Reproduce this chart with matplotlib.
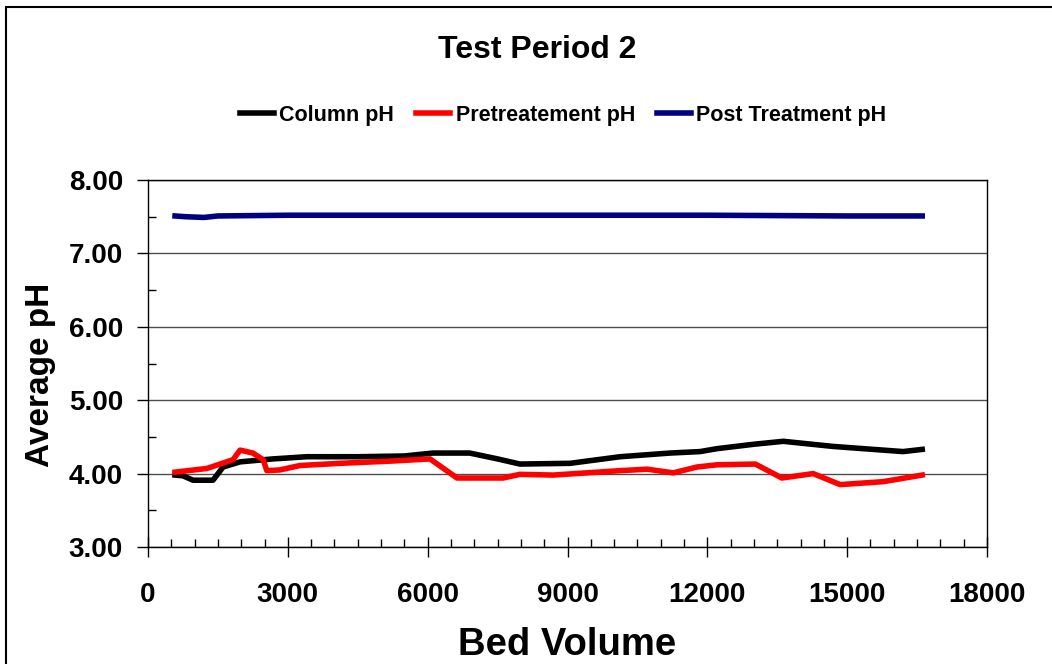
import matplotlib.pyplot as plt
from matplotlib.patches import Rectangle
from matplotlib.ticker import MultipleLocator, FormatStrFormatter

plt.rcParams['font.family'] = ['Liberation Sans', 'DejaVu Sans']
plt.rcParams['font.weight'] = 'bold'

# Column pH
col_x = [580, 750, 965, 1395, 1610, 1975, 2680, 3410, 4500, 5500, 6115, 6900,
         7500, 7980, 9055, 10130, 11200, 11845, 12210, 13000, 13630, 14700,
         15770, 16200, 16610]
col_y = [3.98, 3.97, 3.91, 3.91, 4.09, 4.16, 4.20, 4.23, 4.23, 4.24, 4.28, 4.28,
         4.20, 4.13, 4.14, 4.23, 4.28, 4.30, 4.34, 4.40, 4.44, 4.37,
         4.32, 4.30, 4.33]

# Pretreatement pH
pre_x = [580, 1265, 1825, 1975, 2250, 2470, 2550, 2830, 3260, 4120, 5200, 6050,
         6630, 7620, 7980, 8690, 10130, 10710, 11270, 11780, 12210, 13030,
         13600, 14270, 14850, 15770, 16610]
pre_y = [4.02, 4.07, 4.19, 4.32, 4.28, 4.19, 4.04, 4.05, 4.11, 4.14, 4.17, 4.20,
         3.94, 3.94, 3.99, 3.98, 4.04, 4.06, 4.01, 4.09, 4.12, 4.13,
         3.94, 4.00, 3.85, 3.89, 3.98]

# Post Treatment pH
post_x = [580, 800, 1200, 1500, 3000, 6000, 9000, 12000, 15000, 16610]
post_y = [7.51, 7.50, 7.49, 7.51, 7.52, 7.52, 7.52, 7.52, 7.51, 7.51]

fig = plt.figure(figsize=(10.52, 6.64), dpi=100)
ax = fig.add_axes([148 / 1052, 1 - 547 / 664, (987 - 148) / 1052, (547 - 180) / 664])

ax.plot(col_x, col_y, color='black', lw=4, label='Column pH')
ax.plot(pre_x, pre_y, color='#ff0000', lw=4, label='Pretreatement pH')
ax.plot(post_x, post_y, color='#000080', lw=4, label='Post Treatment pH')

ax.set_xlim(0, 18000)
ax.set_ylim(3, 8)
ax.xaxis.set_major_locator(MultipleLocator(3000))
ax.xaxis.set_minor_locator(MultipleLocator(500))
ax.yaxis.set_major_locator(MultipleLocator(1))
ax.yaxis.set_minor_locator(MultipleLocator(0.5))
ax.yaxis.set_major_formatter(FormatStrFormatter('%.2f'))
ax.tick_params(which='major', direction='out', length=8, width=1, labelsize=20, pad=10)
ax.tick_params(axis='x', which='major', direction='inout', length=14, pad=18)
ax.tick_params(which='minor', direction='in', length=6, width=1)
for lab in ax.get_xticklabels() + ax.get_yticklabels():
    lab.set_fontweight('bold')
ax.grid(axis='y', which='major', color='0.3', lw=1)
for s in ax.spines.values():
    s.set_linewidth(1)

ax.set_xlabel('Bed Volume', fontsize=27.5, fontweight='bold', labelpad=14)
ax.set_ylabel('Average pH', fontsize=24, fontweight='bold')
ax.yaxis.set_label_coords(-0.11, 0.47)

fig.text(537 / 1052, 1 - 50 / 664, 'Test Period 2', ha='center', va='center',
         fontsize=23, fontweight='bold')
fig.legend(loc='center', bbox_to_anchor=(563 / 1052, 1 - 115 / 664), ncol=3,
           frameon=False, prop={'size': 15.5, 'weight': 'bold'},
           handlelength=1.6, handletextpad=0.25, columnspacing=1.0)

fig.patches.append(Rectangle((6 / 1052, -0.1), 1.2, 1.1 - 7 / 664,
                             transform=fig.transFigure, fill=False,
                             edgecolor='black', lw=1.5))

fig.savefig('out.png', dpi=100)
